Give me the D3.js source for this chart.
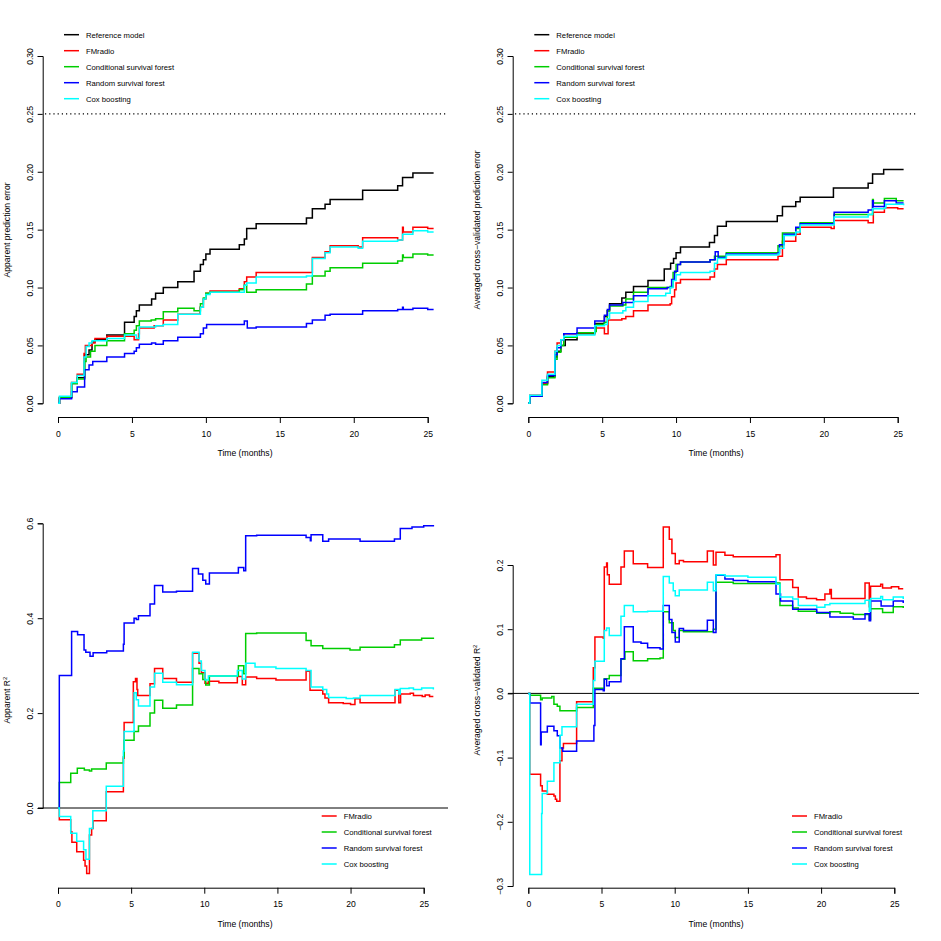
<!DOCTYPE html>
<html>
<head>
<meta charset="utf-8">
<script src="https://cdn.jsdelivr.net/npm/d3@7"></script>
<style>
body { margin: 0; background: #fff; }
text { font-family: "Liberation Sans", Arial, sans-serif; }
</style>
</head>
<body>
<svg id="chart" width="941" height="941"></svg>
<script>
// model names, colours
var modelsAll = ["Reference model", "FMradio", "Conditional survival forest", "Random survival forest", "Cox boosting"];
var colorsAll = ["#000000", "#FF0000", "#00CD00", "#0000FF", "#00FFFF"];

var timeTicks = [0, 5, 10, 15, 20, 25];
var errTicks = [0, 0.05, 0.10, 0.15, 0.20, 0.25, 0.30];
var r2AppTicks = [0, 0.2, 0.4, 0.6];
var r2CvTicks = [-0.3, -0.2, -0.1, 0, 0.1, 0.2];

// apparent prediction error  [time, value]
var pe_app_ref = [[0,0],[0.1,0.005],[0.92,0.017],[1.3,0.022],[1.8,0.042],[2.1,0.046],[2.3,0.053],[2.5,0.055],[3.3,0.059],[4.5,0.070],[5.15,0.075],[5.3,0.080],[5.5,0.085],[6.33,0.090],[6.6,0.095],[7.12,0.100],[8.1,0.105],[9.2,0.114],[9.63,0.120],[9.83,0.124],[10.0,0.129],[10.28,0.133],[12.26,0.137],[12.6,0.142],[12.76,0.151],[13.4,0.155],[16.8,0.160],[17.2,0.168],[18.06,0.172],[18.4,0.176],[20.6,0.184],[22.97,0.188],[23.3,0.195],[24.0,0.199],[25.4,0.199]];
var pe_app_fm = [[0,0],[0.1,0.005],[0.92,0.018],[1.3,0.025],[1.76,0.043],[1.85,0.050],[2.3,0.052],[2.5,0.056],[3.3,0.058],[5.15,0.055],[5.45,0.060],[5.5,0.065],[6.5,0.067],[7.12,0.072],[8.1,0.077],[9.6,0.083],[9.83,0.090],[10.0,0.095],[10.28,0.097],[12.26,0.099],[12.6,0.105],[12.76,0.109],[13.4,0.113],[17.2,0.126],[18.06,0.131],[18.4,0.136],[20.3,0.135],[20.6,0.143],[22.97,0.141],[23.3,0.152],[23.35,0.148],[24.0,0.152],[25.0,0.151],[25.4,0.151]];
var pe_app_csf = [[0,0],[0.1,0.005],[0.92,0.017],[1.3,0.021],[1.8,0.036],[1.9,0.040],[2.2,0.045],[2.5,0.050],[3.3,0.054],[4.5,0.060],[5.15,0.063],[5.3,0.067],[5.5,0.071],[6.3,0.072],[6.6,0.073],[7.12,0.079],[8.1,0.082],[9.2,0.080],[9.63,0.086],[9.83,0.091],[10.0,0.095],[10.28,0.096],[12.26,0.098],[12.6,0.102],[12.76,0.096],[13.4,0.098],[16.8,0.103],[17.2,0.110],[18.06,0.114],[18.4,0.117],[20.6,0.121],[22.97,0.123],[23.3,0.128],[23.35,0.126],[24.0,0.129],[25.0,0.128],[25.4,0.128]];
var pe_app_rsf = [[0,0],[0.1,0.004],[0.92,0.010],[1.3,0.014],[1.8,0.029],[2.1,0.033],[2.35,0.036],[3.3,0.040],[4.5,0.043],[5.15,0.045],[5.3,0.048],[5.5,0.051],[6.33,0.052],[6.6,0.051],[7.12,0.054],[8.1,0.057],[9.63,0.060],[9.83,0.065],[10.05,0.068],[12.6,0.071],[12.8,0.065],[13.4,0.066],[16.8,0.069],[17.2,0.072],[18.06,0.076],[18.4,0.077],[20.6,0.080],[22.97,0.081],[23.3,0.083],[23.35,0.081],[24.0,0.082],[25.0,0.081],[25.4,0.081]];
var pe_app_cox = [[0,0],[0.1,0.006],[0.92,0.018],[1.3,0.024],[1.76,0.040],[1.9,0.049],[2.1,0.052],[2.3,0.054],[3.3,0.056],[4.5,0.059],[5.3,0.056],[5.5,0.066],[6.6,0.067],[7.12,0.068],[8.1,0.077],[9.63,0.083],[9.83,0.090],[10.0,0.094],[10.28,0.096],[12.6,0.102],[12.76,0.104],[13.4,0.109],[16.8,0.110],[17.2,0.125],[18.06,0.130],[18.4,0.135],[20.3,0.134],[20.6,0.140],[22.97,0.141],[23.3,0.146],[24.0,0.149],[25.0,0.148],[25.4,0.148]];

// averaged cross-validated prediction error
var pe_cv_ref = [[0,0],[0.1,0.006],[0.92,0.017],[1.3,0.023],[1.8,0.040],[1.95,0.045],[2.2,0.050],[2.5,0.055],[3.3,0.060],[4.5,0.069],[5.15,0.075],[5.35,0.080],[5.5,0.086],[6.33,0.091],[6.6,0.096],[7.12,0.101],[8.1,0.106],[9.2,0.116],[9.63,0.121],[9.83,0.125],[10.0,0.130],[10.3,0.135],[12.26,0.139],[12.6,0.145],[12.8,0.153],[13.4,0.157],[16.85,0.162],[17.2,0.170],[18.1,0.174],[18.4,0.178],[20.65,0.186],[23.0,0.190],[23.3,0.198],[24.05,0.202],[25.4,0.202]];
var pe_cv_fm = [[0,0],[0.1,0.007],[0.92,0.017],[1.3,0.027],[1.8,0.045],[1.95,0.052],[2.2,0.055],[2.4,0.060],[3.3,0.061],[4.5,0.065],[5.15,0.060],[5.4,0.072],[6.33,0.073],[6.6,0.075],[7.12,0.080],[8.1,0.085],[9.6,0.086],[9.7,0.092],[9.9,0.098],[10.0,0.104],[10.3,0.107],[12.3,0.109],[12.6,0.116],[12.8,0.120],[13.4,0.124],[16.9,0.127],[17.2,0.140],[18.1,0.146],[18.4,0.152],[20.5,0.151],[20.7,0.158],[23.0,0.156],[23.35,0.165],[24.1,0.169],[25.0,0.168],[25.4,0.168]];
var pe_cv_csf = [[0,0],[0.1,0.006],[0.92,0.016],[1.3,0.022],[1.8,0.038],[1.95,0.044],[2.2,0.050],[2.4,0.057],[3.3,0.061],[4.5,0.062],[4.6,0.068],[5.15,0.070],[5.35,0.080],[5.5,0.084],[6.4,0.085],[6.6,0.090],[7.12,0.096],[8.1,0.100],[9.6,0.101],[9.8,0.113],[10.0,0.120],[10.3,0.122],[12.3,0.124],[12.6,0.127],[13.4,0.130],[16.9,0.136],[17.2,0.147],[18.1,0.151],[18.4,0.156],[20.7,0.163],[23.3,0.176],[23.35,0.173],[24.1,0.177],[24.9,0.175],[25.4,0.175]];
var pe_cv_rsf = [[0,0],[0.1,0.006],[0.92,0.018],[1.3,0.024],[1.8,0.042],[1.95,0.048],[2.2,0.055],[2.4,0.060],[3.3,0.065],[4.5,0.071],[5.15,0.076],[5.35,0.081],[5.5,0.085],[6.4,0.087],[7.12,0.093],[8.1,0.099],[9.4,0.100],[9.7,0.107],[9.9,0.114],[10.1,0.120],[10.3,0.122],[12.3,0.124],[12.65,0.131],[12.85,0.126],[13.4,0.129],[16.9,0.130],[17.0,0.137],[17.3,0.146],[18.1,0.152],[18.4,0.155],[20.7,0.165],[23.0,0.167],[23.3,0.175],[23.35,0.170],[24.1,0.175],[24.9,0.173],[25.4,0.173]];
var pe_cv_cox = [[0,0],[0.1,0.007],[0.92,0.020],[1.3,0.025],[1.8,0.045],[1.95,0.050],[2.2,0.055],[2.4,0.058],[3.3,0.059],[4.5,0.067],[5.15,0.068],[5.35,0.073],[5.5,0.078],[6.4,0.080],[6.6,0.083],[7.12,0.088],[8.1,0.093],[9.3,0.095],[9.6,0.100],[9.8,0.106],[10.0,0.111],[10.3,0.113],[12.3,0.114],[12.6,0.121],[12.8,0.125],[13.4,0.128],[16.9,0.129],[17.0,0.134],[17.3,0.145],[18.1,0.148],[18.4,0.154],[20.7,0.161],[23.0,0.163],[23.3,0.168],[24.1,0.169],[24.2,0.172],[25.4,0.171]];

// apparent R^2
var r2_app_fm = [[0,0],[0.09,-0.025],[0.87,-0.05],[0.95,-0.072],[1.28,-0.092],[1.75,-0.11],[1.85,-0.122],[1.96,-0.138],[2.15,-0.057],[2.3,-0.043],[2.4,-0.027],[3.3,0.034],[4.47,0.105],[4.52,0.18],[5.15,0.266],[5.3,0.273],[5.4,0.25],[5.45,0.237],[6.29,0.262],[6.6,0.294],[7.16,0.273],[8.1,0.265],[9.2,0.326],[9.64,0.305],[9.8,0.285],[10.05,0.263],[10.28,0.267],[11.0,0.264],[12.26,0.277],[12.6,0.26],[12.83,0.276],[13.58,0.273],[14.9,0.27],[16.96,0.288],[17.23,0.248],[18.1,0.24],[18.25,0.232],[18.5,0.222],[19.5,0.22],[20.0,0.218],[20.3,0.23],[20.65,0.222],[23.04,0.248],[23.3,0.222],[23.42,0.24],[24.08,0.242],[24.3,0.237],[24.9,0.235],[25.1,0.238],[25.4,0.235],[25.66,0.235]];
var r2_app_csf = [[0,0],[0.09,0.054],[0.87,0.073],[1.32,0.084],[1.8,0.080],[2.15,0.078],[2.3,0.082],[3.3,0.095],[4.47,0.108],[4.52,0.143],[5.2,0.161],[5.5,0.173],[6.29,0.20],[6.6,0.227],[7.16,0.21],[8.1,0.217],[9.2,0.294],[9.64,0.283],[9.9,0.271],[10.1,0.259],[10.35,0.278],[12.33,0.30],[12.7,0.283],[12.83,0.368],[13.58,0.369],[16.96,0.353],[17.3,0.342],[18.1,0.336],[19.96,0.333],[20.65,0.339],[23.0,0.344],[23.4,0.354],[24.86,0.358],[25.66,0.356]];
var r2_app_rsf = [[0,0],[0.09,0.279],[0.93,0.372],[1.34,0.365],[1.78,0.333],[1.9,0.328],[2.19,0.320],[2.4,0.327],[3.33,0.331],[4.47,0.345],[4.52,0.39],[5.2,0.40],[5.35,0.397],[5.5,0.405],[6.29,0.43],[6.6,0.469],[7.16,0.455],[8.1,0.457],[9.2,0.505],[9.6,0.493],[9.9,0.48],[10.1,0.472],[10.35,0.495],[12.33,0.507],[12.7,0.50],[12.83,0.574],[13.58,0.575],[16.96,0.570],[17.25,0.563],[17.3,0.576],[18.1,0.562],[18.5,0.567],[20.65,0.562],[23.0,0.567],[23.4,0.589],[24.2,0.592],[25.0,0.595],[25.66,0.593]];
var r2_app_cox = [[0,0],[0.09,-0.018],[0.87,-0.053],[1.28,-0.07],[1.75,-0.088],[1.91,-0.108],[2.15,-0.043],[2.38,-0.006],[3.3,0.046],[4.47,0.12],[4.52,0.161],[5.2,0.243],[5.35,0.228],[5.5,0.215],[6.29,0.255],[6.6,0.284],[7.16,0.265],[8.1,0.26],[9.2,0.328],[9.64,0.31],[9.8,0.29],[10.05,0.27],[10.28,0.278],[12.26,0.29],[12.6,0.272],[12.83,0.305],[13.47,0.297],[14.9,0.294],[16.96,0.29],[17.3,0.255],[18.1,0.25],[18.37,0.24],[18.5,0.233],[19.7,0.231],[20.2,0.232],[20.65,0.237],[23.04,0.25],[23.3,0.24],[23.4,0.252],[24.0,0.253],[24.3,0.25],[24.86,0.253],[25.66,0.25]];

// averaged cross-validated R^2
var r2_cv_fm = [[0,0],[0.1,-0.126],[0.84,-0.144],[0.95,-0.152],[1.3,-0.157],[1.75,-0.16],[1.85,-0.165],[1.94,-0.168],[2.16,-0.105],[2.3,-0.085],[2.4,-0.078],[3.3,-0.013],[4.44,0.04],[4.55,0.088],[5.12,0.086],[5.19,0.197],[5.35,0.203],[5.4,0.185],[5.53,0.17],[6.33,0.197],[6.56,0.222],[7.17,0.202],[8.15,0.196],[9.22,0.259],[9.63,0.24],[9.81,0.218],[10.04,0.202],[10.31,0.207],[10.6,0.205],[12.23,0.222],[12.64,0.2],[12.82,0.22],[13.43,0.215],[14.0,0.213],[16.92,0.216],[17.19,0.177],[18.06,0.165],[18.44,0.15],[19.0,0.148],[19.69,0.146],[20.26,0.155],[20.6,0.162],[20.7,0.148],[23.0,0.172],[23.29,0.135],[23.38,0.167],[24.07,0.17],[24.2,0.164],[24.8,0.166],[25.3,0.163],[25.61,0.163]];
var r2_cv_csf = [[0,0],[0.1,-0.003],[0.84,-0.01],[0.95,-0.007],[1.6,-0.005],[1.75,-0.017],[1.98,-0.02],[2.16,-0.027],[3.3,-0.022],[4.44,0.008],[5.19,0.023],[5.53,0.028],[6.33,0.053],[6.6,0.065],[7.17,0.051],[8.15,0.054],[9.0,0.055],[9.22,0.127],[9.63,0.11],[9.9,0.098],[10.04,0.087],[10.31,0.098],[10.6,0.096],[12.64,0.10],[12.82,0.173],[14.0,0.171],[16.92,0.172],[17.19,0.137],[18.06,0.133],[18.44,0.128],[19.7,0.125],[20.6,0.127],[21.3,0.125],[22.2,0.123],[23.29,0.115],[23.38,0.132],[24.2,0.126],[24.93,0.135],[25.61,0.133]];
var r2_cv_rsf = [[0,0],[0.1,-0.015],[0.84,-0.08],[0.88,-0.06],[1.3,-0.051],[1.75,-0.058],[1.98,-0.066],[2.16,-0.085],[2.35,-0.09],[3.3,-0.074],[4.48,-0.05],[4.55,0.006],[5.12,0.004],[5.19,0.022],[5.35,0.012],[5.53,0.018],[6.33,0.054],[6.56,0.104],[7.17,0.08],[7.7,0.078],[8.15,0.071],[9.0,0.069],[9.22,0.137],[9.63,0.115],[9.81,0.095],[10.04,0.08],[10.31,0.101],[10.6,0.098],[12.23,0.114],[12.64,0.095],[12.82,0.184],[13.43,0.178],[14.0,0.176],[15.0,0.174],[16.92,0.155],[17.23,0.144],[18.06,0.131],[19.7,0.126],[20.6,0.119],[22.2,0.116],[23.0,0.124],[23.29,0.113],[23.38,0.144],[24.1,0.136],[24.93,0.144],[25.61,0.141]];
var r2_cv_cox = [[0,0],[0.1,-0.282],[0.91,-0.187],[0.95,-0.156],[1.3,-0.137],[1.75,-0.108],[2.16,-0.065],[2.3,-0.052],[3.3,-0.017],[4.44,0.02],[4.55,0.05],[5.19,0.098],[5.35,0.102],[5.53,0.09],[6.33,0.12],[6.56,0.137],[7.17,0.127],[8.15,0.128],[9.22,0.182],[9.63,0.172],[9.9,0.16],[10.04,0.152],[10.31,0.161],[12.23,0.173],[12.64,0.16],[12.82,0.185],[13.43,0.183],[15.0,0.181],[16.92,0.17],[17.19,0.15],[18.06,0.147],[18.44,0.137],[19.7,0.134],[20.26,0.138],[20.6,0.14],[23.0,0.145],[23.29,0.128],[23.38,0.148],[24.07,0.151],[24.2,0.146],[24.93,0.15],[25.61,0.147]];

var svg = d3.select("#chart");
svg.append("rect").attr("width", 941).attr("height", 941).attr("fill", "#fff");

var panels = [
    {
        series: [pe_app_ref, pe_app_fm, pe_app_csf, pe_app_rsf, pe_app_cox], models: modelsAll, colors: colorsAll,
        xRange: [58, 427.7], yDomain: [0, 0.3], yRange: [403.3, 56], yTicks: errTicks, fmt: ".2f",
        xAxisY: 417, yAxisX: 42.7, ylab: ["Apparent prediction error"], ylabX: 9.5, ylabY: 230,
        xlabX: 245, dotted: [45, 448], legendX: 64, legendY: 34.7
    },
    {
        series: [pe_cv_ref, pe_cv_fm, pe_cv_csf, pe_cv_rsf, pe_cv_cox], models: modelsAll, colors: colorsAll,
        xRange: [528.3, 897.7], yDomain: [0, 0.3], yRange: [403.3, 56], yTicks: errTicks, fmt: ".2f",
        xAxisY: 417, yAxisX: 512.7, ylab: ["Averaged cross\u2212validated prediction error"], ylabX: 479.5, ylabY: 230,
        xlabX: 716, dotted: [515, 918], legendX: 534.3, legendY: 34.7
    },
    {
        series: [r2_app_fm, r2_app_csf, r2_app_rsf, r2_app_cox], models: modelsAll.slice(1), colors: colorsAll.slice(1),
        xRange: [58, 423.7], yDomain: [0, 0.6], yRange: [808, 523.3], yTicks: r2AppTicks, fmt: ".1f",
        xAxisY: 887.7, yAxisX: 42.7, ylab: ["Apparent R", "2"], ylabX: 9.5, ylabY: 700,
        xlabX: 245, zeroLine: [38, 448], legendX: 321.7, legendY: 816
    },
    {
        series: [r2_cv_fm, r2_cv_csf, r2_cv_rsf, r2_cv_cox], models: modelsAll.slice(1), colors: colorsAll.slice(1),
        xRange: [528.3, 894.3], yDomain: [-0.3, 0.2], yRange: [886, 565], yTicks: r2CvTicks, fmt: ".1f",
        xAxisY: 887.7, yAxisX: 512.7, ylab: ["Averaged cross\u2212validated R", "2"], ylabX: 479.5, ylabY: 700,
        xlabX: 716, zeroLine: [508, 919], legendX: 792, legendY: 816
    }
];

panels.forEach(function(p) {
    var x = d3.scaleLinear().domain([0, 25]).range(p.xRange);
    var y = d3.scaleLinear().domain(p.yDomain).range(p.yRange);
    var g = svg.append("g");

    // x axis
    var xa = g.append("g")
        .attr("transform", "translate(0," + (p.xAxisY - y.range()[0]) + ")")
        .append("g")
        .attr("transform", "translate(0," + y.range()[0] + ")")
        .call(d3.axisBottom(x).tickValues(timeTicks).tickSizeOuter(0).tickSize(6).tickPadding(7.5));
    xa.selectAll("text").style("font-size", "8.6px").attr("fill", "#000");

    // y axis, labels rotated like R
    var ya = g.append("g")
        .attr("transform", "translate(" + p.yAxisX + ",0)")
        .call(d3.axisLeft(y).tickValues(p.yTicks).tickSizeOuter(0).tickSize(5).tickFormat(d3.format(p.fmt)));
    ya.selectAll("text")
        .attr("x", null).attr("dy", null)
        .attr("text-anchor", "middle")
        .attr("transform", "translate(-10,0) rotate(-90)")
        .style("font-size", "8.6px").attr("fill", "#000");
    g.selectAll(".domain, .tick line").attr("stroke", "#000");

    // axis titles
    g.append("text")
        .attr("x", p.xlabX).attr("y", p.xAxisY + 39)
        .attr("text-anchor", "middle")
        .style("font-size", "8.6px")
        .text("Time (months)");

    var yl = g.append("text")
        .attr("transform", "translate(" + p.ylabX + "," + p.ylabY + ") rotate(-90)")
        .attr("text-anchor", "middle")
        .style("font-size", "8.6px")
        .text(p.ylab[0]);
    if (p.ylab.length > 1) {
        yl.append("tspan").attr("dy", "-0.45em").style("font-size", "6px").text(p.ylab[1]);
    }

    // reference lines
    if (p.dotted) {
        g.append("line")
            .attr("x1", p.dotted[0]).attr("x2", p.dotted[1])
            .attr("y1", y(0.25)).attr("y2", y(0.25))
            .attr("stroke", "#000").attr("stroke-width", 1.2)
            .attr("stroke-dasharray", "1.2,3");
    }
    if (p.zeroLine) {
        g.append("line")
            .attr("x1", p.zeroLine[0]).attr("x2", p.zeroLine[1])
            .attr("y1", y(0)).attr("y2", y(0))
            .attr("stroke", "#000").attr("stroke-width", 1);
    }

    // step curves
    var line = d3.line()
        .x(function(d) { return x(d[0]); })
        .y(function(d) { return y(d[1]); })
        .curve(d3.curveStepAfter);

    p.series.forEach(function(s, i) {
        g.append("path")
            .datum(s)
            .attr("fill", "none")
            .attr("stroke", p.colors[i])
            .attr("stroke-width", 1.5)
            .attr("d", line);
    });

    // legend
    var lg = g.append("g").attr("transform", "translate(" + p.legendX + "," + p.legendY + ")");
    p.models.forEach(function(m, i) {
        lg.append("line")
            .attr("x1", 0).attr("x2", 15)
            .attr("y1", i * 16).attr("y2", i * 16)
            .attr("stroke", p.colors[i]).attr("stroke-width", 1.5);
        lg.append("text")
            .attr("x", 22).attr("y", i * 16 + 3)
            .style("font-size", "7.7px")
            .text(m);
    });
});
</script>
</body>
</html>
